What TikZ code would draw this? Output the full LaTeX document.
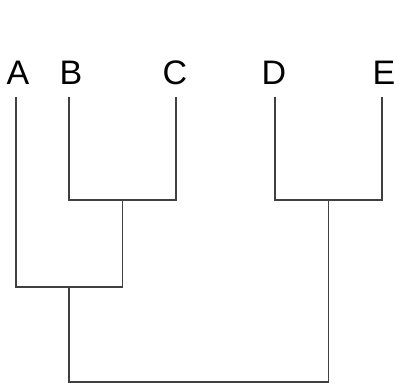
\documentclass[tikz,border=0pt]{standalone}
\usepackage{fontspec}
\setmainfont{Liberation Sans}
\begin{document}
\begin{tikzpicture}[x=1pt,y=1pt,
  leaf/.style={anchor=base,inner sep=0pt,font=\fontsize{34}{34}\selectfont},
  branch/.style={draw=black!75,line width=1.3pt}]
\useasboundingbox (0,0) rectangle (398,385);
% labels (baseline at y=85 px from top)
\node[leaf] (A) at (18,300) {A};
\node[leaf] (B) at (71,300) {B};
\node[leaf] (C) at (175,300) {C};
\node[leaf] (D) at (274,300) {D};
\node[leaf] (E) at (384,300) {E};
% leaf tops
\coordinate (a) at (16,288);
\coordinate (b) at (69,288);
\coordinate (c) at (176,288);
\coordinate (d) at (275,288);
\coordinate (e) at (382,288);
% internal joins
\coordinate (bc) at (122.5,185);
\coordinate (de) at (328.5,185);
\coordinate (abc) at (69,98);
\coordinate (root) at (198,3);
\draw[branch] (b) |- (bc) -| (c);
\draw[branch] (d) |- (de) -| (e);
\draw[branch] (a) |- (abc -| bc) -- (bc);
\draw[branch] (abc) |- (root -| de) -- (de);
\end{tikzpicture}
\end{document}
